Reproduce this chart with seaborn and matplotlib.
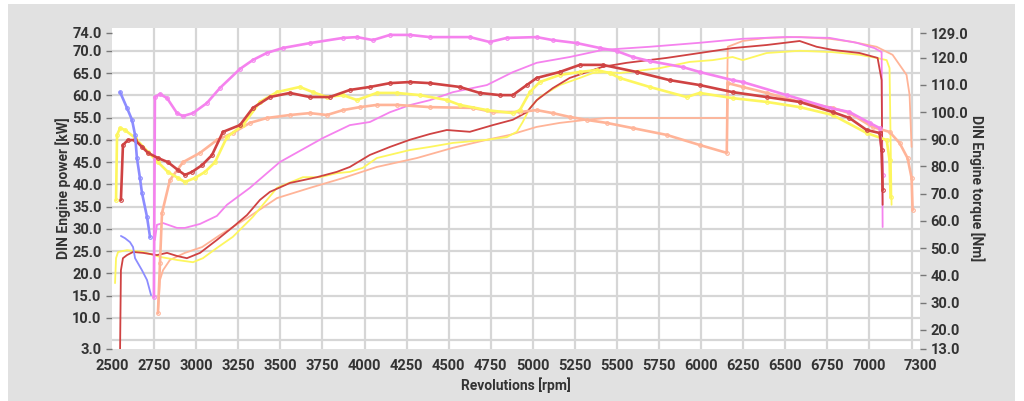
import matplotlib
matplotlib.use("Agg")
import matplotlib.pyplot as plt
import seaborn as sns
from matplotlib.patches import Rectangle
from matplotlib.ticker import FixedLocator

# ---------------- data ----------------
x_ticks = [2500, 2750, 3000, 3250, 3500, 3750, 4000, 4250, 4500, 4750, 5000,
           5250, 5500, 5750, 6000, 6250, 6500, 6750, 7000, 7300]
kw_ticks = [3, 10, 15, 20, 25, 30, 35, 40, 45, 50, 55, 60, 65, 70, 74]
nm_ticks = [13, 20, 30, 40, 50, 60, 70, 80, 90, 100, 110, 120, 129]

# Pink run
pink_tq_rpm = [2749, 2755, 2785, 2827, 2886, 2922, 2981, 3064, 3141, 3260, 3337, 3420, 3515, 3676,
               3872, 3955, 4050, 4151, 4269, 4388, 4626, 4744, 4845, 5023, 5118, 5261, 5398, 5498,
               5593, 5694, 5890, 5991, 6187, 6247, 6508, 6763, 6881, 7001, 7060, 7072, 7078]
pink_tq_nm = [32.1, 105.5, 106.6, 105.1, 99.6, 98.5, 99.6, 103.3, 108.8, 115.8, 119.1, 121.7, 123.5, 125.3,
              127.2, 127.5, 126.4, 128.3, 128.3, 127.5, 127.5, 125.7, 127.2, 127.5, 126.4, 125.3, 123.5, 122.4,
              120.2, 118.7, 116.5, 114.7, 111.7, 111.0, 106.2, 101.5, 100.0, 96.0, 94.1, 86.1, 76.9]
pink_pw_rpm = [2755, 2767, 2803, 2886, 2933, 3023, 3123, 3183, 3319, 3497, 3753, 3913, 4032, 4151,
               4269, 4388, 4525, 4727, 4881, 5023, 5219, 5415, 5694, 5991, 6247, 6508, 6763, 6923,
               7030, 7072, 7078]
pink_pw_kw = [27.5, 30.9, 31.3, 30.2, 30.2, 31.1, 32.9, 35.4, 39.2, 45.0, 50.4, 53.3, 54.0, 56.2,
              57.8, 58.9, 60.7, 62.3, 65.2, 67.3, 68.6, 70.2, 70.9, 71.8, 72.7, 73.1, 72.9, 71.8,
              70.6, 69.7, 30.4]

# Red run
red_tq_rpm = [2553, 2565, 2595, 2637, 2678, 2714, 2773, 2832, 2892, 2933, 2975, 3035, 3094, 3159,
              3260, 3337, 3438, 3557, 3676, 3794, 3913, 4032, 4151, 4269, 4388, 4566, 4685, 4804,
              4881, 4964, 5023, 5160, 5279, 5415, 5617, 5813, 5991, 6187, 6389, 6585, 6781, 6881,
              6983, 7060, 7072, 7078]
red_tq_nm = [67.7, 87.9, 89.7, 89.7, 87.2, 85.0, 83.1, 81.6, 78.7, 76.9, 78.0, 80.5, 84.2, 92.7,
             95.2, 101.5, 105.5, 107.0, 105.5, 105.5, 108.1, 109.2, 110.6, 111.0, 110.6, 109.2, 107.0, 106.2,
             106.2, 109.9, 112.5, 114.7, 117.3, 117.3, 114.7, 111.7, 109.9, 107.3, 105.5, 103.7, 100.0, 97.8,
             93.4, 92.3, 86.1, 71.4]
red_pw_rpm = [2548, 2553, 2565, 2589, 2625, 2684, 2767, 2827, 2886, 2945, 3023, 3123, 3218, 3302,
              3379, 3438, 3557, 3717, 3836, 3913, 4032, 4151, 4269, 4388, 4489, 4626, 4762, 4881,
              4964, 5023, 5118, 5219, 5320, 5415, 5558, 5795, 5991, 6187, 6389, 6585, 6686, 6781,
              6941, 7048, 7072, 7078]
red_pw_kw = [3.0, 20.7, 23.4, 24.1, 24.8, 24.6, 24.1, 24.6, 23.9, 23.4, 24.6, 27.5, 30.4, 33.1,
             36.5, 38.3, 40.3, 41.6, 42.8, 43.9, 46.6, 48.4, 50.0, 51.3, 52.2, 51.8, 53.3, 54.5,
             56.2, 58.9, 61.6, 63.9, 65.2, 66.4, 67.3, 68.4, 69.5, 70.6, 71.3, 72.2, 70.9, 70.2,
             69.5, 68.4, 63.4, 35.4]

# Yellow run
yel_tq_rpm = [2524, 2530, 2548, 2577, 2637, 2714, 2773, 2832, 2892, 2933, 2993, 3052, 3112, 3183,
              3278, 3379, 3480, 3616, 3693, 3777, 3872, 3955, 4073, 4192, 4329, 4489, 4566, 4727,
              4881, 4923, 4982, 5041, 5160, 5279, 5380, 5457, 5516, 5694, 5914, 5991, 6187, 6389,
              6585, 6781, 6983, 7102, 7119, 7125]
yel_tq_nm = [67.7, 91.6, 94.1, 93.4, 90.5, 85.3, 81.6, 78.0, 75.8, 74.3, 75.8, 78.0, 81.6, 90.8,
             95.2, 103.7, 107.3, 109.2, 107.3, 105.5, 106.2, 104.4, 107.0, 107.0, 106.2, 104.4, 102.6, 100.7,
             99.6, 100.7, 107.3, 111.0, 113.6, 114.7, 115.4, 114.3, 112.5, 109.2, 105.5, 107.0, 105.1, 103.7,
             101.8, 98.9, 92.3, 89.7, 82.4, 68.8]
yel_pw_rpm = [2518, 2524, 2536, 2589, 2684, 2785, 2886, 2981, 3040, 3123, 3218, 3337, 3480, 3634,
              3735, 3836, 3913, 3990, 4073, 4192, 4269, 4388, 4525, 4727, 4845, 4905, 4940, 4982,
              5041, 5160, 5279, 5356, 5439, 5516, 5754, 5932, 6068, 6187, 6247, 6389, 6585, 6781,
              6941, 7042, 7102, 7119, 7131]
yel_pw_kw = [17.8, 23.4, 24.8, 25.2, 24.8, 23.7, 23.0, 22.5, 23.4, 25.7, 28.2, 32.7, 39.2, 41.6,
             41.6, 42.5, 42.8, 43.7, 45.9, 47.0, 47.7, 48.4, 49.3, 50.0, 50.6, 51.8, 54.0, 57.1,
             59.6, 62.3, 63.9, 65.0, 65.2, 65.0, 66.1, 67.5, 67.9, 68.6, 67.9, 69.5, 70.0, 69.7,
             69.1, 68.4, 67.9, 66.1, 35.4]

# Salmon run
sal_tq_rpm = [2773, 2785, 2797, 2844, 2922, 3023, 3123, 3218, 3319, 3420, 3557, 3676, 3777, 3872,
              3973, 4073, 4192, 4388, 4644, 4762, 4923, 5023, 5118, 5219, 5320, 5439, 5593, 5795,
              5991, 6152, 6158, 6247, 6389, 6585, 6781, 6881, 7018, 7119, 7179, 7226, 7250, 7256]
sal_tq_nm = [26.2, 44.6, 62.9, 75.0, 81.6, 85.0, 89.7, 92.3, 96.0, 97.8, 98.9, 99.6, 98.9, 100.7,
             101.8, 102.6, 102.6, 101.8, 101.5, 100.0, 100.0, 100.7, 99.6, 98.2, 97.1, 96.0, 94.1, 91.6,
             87.9, 85.0, 110.6, 109.2, 107.0, 103.7, 101.5, 99.6, 94.5, 92.7, 88.6, 83.1, 75.8, 64.0]
sal_pw_rpm = [2773, 2785, 2803, 2844, 2933, 3035, 3141, 3302, 3480, 3676, 3872, 4073, 4311, 4525,
              4727, 4863, 5023, 5160, 5320, 5439, 5795, 6152, 6158, 6247, 6389, 6585, 6763, 6899,
              7042, 7137, 7220, 7238, 7250]
sal_pw_kw = [11.1, 18.5, 20.7, 23.0, 24.6, 25.9, 28.6, 32.4, 36.9, 39.2, 41.4, 43.9, 45.9, 48.2,
             50.0, 51.1, 52.9, 53.8, 54.5, 54.9, 54.9, 54.9, 70.9, 72.2, 72.9, 73.1, 72.7, 72.0,
             70.9, 69.1, 64.6, 60.1, 48.4]

# Blue run (aborted)
blue_tq_rpm = [2548, 2589, 2619, 2637, 2648, 2666, 2678, 2708, 2726]
blue_tq_nm = [107.3, 101.5, 97.1, 91.6, 83.1, 75.8, 70.3, 61.5, 54.1]
blue_pw_rpm = [2553, 2577, 2607, 2625, 2637, 2678, 2708, 2732]
blue_pw_kw = [28.4, 27.9, 27.0, 25.9, 23.4, 20.7, 18.5, 15.1]

# ---------------- style ----------------
sns.set_style("white")
plt.rcParams['font.family'] = ['Roboto', 'DejaVu Sans']

C_RED = '#cf4242'
C_YEL = '#fdf65e'
C_SAL = '#ffb498'
C_PINK = '#f582ee'
C_BLUE = '#8c8cff'
TXT = '#333333'

fig = plt.figure(figsize=(10.24, 4.01), dpi=100)
fig.patch.set_facecolor('white')
fig.patches.append(Rectangle((8 / 1024, 0), (1015 - 8) / 1024, 397 / 401,
                             transform=fig.transFigure, facecolor='#e1e1e1',
                             edgecolor='none', zorder=-10))

ax = fig.add_axes([112 / 1024, 52 / 401, 808 / 1024, 321 / 401])
ax.set_facecolor('white')
ax2 = ax.twinx()

ax.set_xlim(2500, 7300)
ax.set_ylim(3, 75.12)
ax2.set_ylim(13, 130.84)

for a in (ax, ax2):
    for s in a.spines.values():
        s.set_visible(False)

# ticks & grid
ax.xaxis.remove_overlapping_locs = False
ax.yaxis.remove_overlapping_locs = False
ax.xaxis.set_major_locator(FixedLocator(x_ticks))
ax.set_xticklabels([str(v) for v in x_ticks])
ax.xaxis.set_minor_locator(FixedLocator(list(range(2750, 7251, 250))))
ax.yaxis.set_major_locator(FixedLocator(kw_ticks))
ax.set_yticklabels([f"{v:.1f}" for v in kw_ticks])
ax.yaxis.set_minor_locator(FixedLocator(list(range(5, 71, 5))))
ax2.yaxis.set_major_locator(FixedLocator(nm_ticks))
ax2.set_yticklabels([f"{v:.1f}" for v in nm_ticks])

ax.grid(False, which='major')
ax2.grid(False)
ax.grid(True, which='minor', color='#d6d6d6', linewidth=1.6)
ax.set_axisbelow(True)

tick_kw = dict(labelsize=10.5, labelcolor=TXT, color='#777777', width=1, length=4, direction='out')
ax.tick_params(axis='both', which='major', **tick_kw)
ax.tick_params(axis='both', which='minor', length=0)
ax2.tick_params(axis='y', which='major', **tick_kw)
for lab in ax.get_xticklabels() + ax.get_yticklabels() + ax2.get_yticklabels():
    lab.set_fontweight('bold')

ax.set_xlabel("Revolutions [rpm]", fontsize=10, fontweight='bold', color=TXT, labelpad=3)
ax.set_ylabel("DIN Engine power [kW]", fontsize=10, fontweight='bold', color=TXT, labelpad=1)
ax2.set_ylabel("DIN Engine torque [Nm]", fontsize=10, fontweight='bold', color=TXT,
               rotation=270, labelpad=12)

# ---------------- curves ----------------
pw_kw = dict(estimator=None, sort=False, linewidth=1.3, legend=False)
tq_kw = dict(estimator=None, sort=False, linewidth=1.9, legend=False,
             marker='o', markersize=2.6, markerfacecolor='none', markeredgewidth=0.8)

sns.lineplot(x=sal_pw_rpm, y=sal_pw_kw, ax=ax, color=C_SAL, **pw_kw)
sns.lineplot(x=yel_pw_rpm, y=yel_pw_kw, ax=ax, color=C_YEL, **pw_kw)
sns.lineplot(x=pink_pw_rpm, y=pink_pw_kw, ax=ax, color=C_PINK, **pw_kw)
sns.lineplot(x=red_pw_rpm, y=red_pw_kw, ax=ax, color=C_RED, **pw_kw)
sns.lineplot(x=blue_pw_rpm, y=blue_pw_kw, ax=ax, color=C_BLUE, **pw_kw)

sns.lineplot(x=sal_tq_rpm, y=sal_tq_nm, ax=ax2, color=C_SAL, markeredgecolor=C_SAL, **tq_kw)
sns.lineplot(x=yel_tq_rpm, y=yel_tq_nm, ax=ax2, color=C_YEL, markeredgecolor=C_YEL, **tq_kw)
sns.lineplot(x=pink_tq_rpm, y=pink_tq_nm, ax=ax2, color=C_PINK, markeredgecolor=C_PINK, **tq_kw)
sns.lineplot(x=red_tq_rpm, y=red_tq_nm, ax=ax2, color=C_RED, markeredgecolor=C_RED, **tq_kw)
sns.lineplot(x=blue_tq_rpm, y=blue_tq_nm, ax=ax2, color=C_BLUE, markeredgecolor=C_BLUE, **tq_kw)

ax2.set_xlim(2500, 7300)
fig.savefig("out.png", dpi=100, facecolor=fig.get_facecolor())
